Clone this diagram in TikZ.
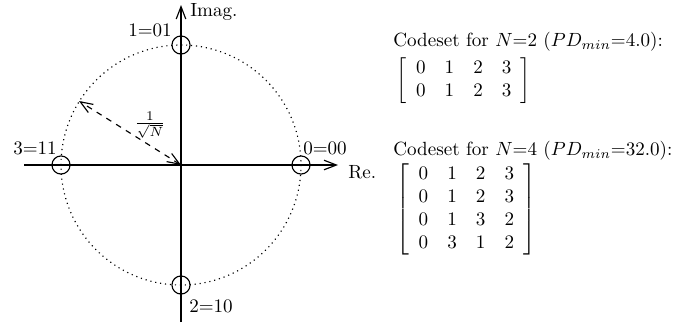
\documentclass[tikz,border=0pt]{standalone}
\usetikzlibrary{arrows.meta}
\begin{document}
\begin{tikzpicture}[x=0.524pt,y=-0.524pt,
  axis/.style={line width=0.6pt,-{Straight Barb[length=6.5pt,width=5pt]}},
  pt/.style={circle,draw,line width=0.6pt,minimum size=9.5pt,inner sep=0pt},
  lbl/.style={inner sep=1pt},
  radius arrow/.style={dashed,line width=0.6pt,{Straight Barb[length=6.5pt,width=5pt]}-{Straight Barb[length=6.5pt,width=5pt]}}]
\useasboundingbox (0,0) rectangle (696,326);
\coordinate (O) at (181,165);
\coordinate (xs) at (24,165);
\coordinate (xe) at (338,165);
\coordinate (ys) at (181,322);
\coordinate (ye) at (181,5);
\draw[dotted,line width=0.6pt] (O) circle[radius=120];
\draw[axis] (xs) -- (xe);
\draw[axis] (ys) -- (ye);
\node[pt] (p0) at (301,165) {};
\node[pt] (p1) at (181,45) {};
\node[pt] (p2) at (181,285) {};
\node[pt] (p3) at (61,165) {};
\draw[radius arrow] (O) -- ++(-102,-64) coordinate (Rt);
\node[lbl] (frac) at (150,125) {$\frac{1}{\sqrt{N}}$};
\node[lbl,anchor=west] (im) at (188,12) {Imag.};
\node[lbl,anchor=west] (re) at (346,172) {Re.};
\node[lbl] (l1) at (150,30) {1=01};
\node[lbl] (l3) at (35,148) {3=11};
\node[lbl] (l0) at (325,148) {0=00};
\node[lbl] (l2) at (211,306) {2=10};
\node[inner sep=0pt,anchor=west] (c1) at (393,42) {Codeset for $N$=2 ($PD_{min}$=4.0):};
\node[inner sep=0pt,anchor=north west] (m1) at (396,57) {$\left[\begin{array}{cccc}0&1&2&3\\0&1&2&3\end{array}\right]$};
\node[inner sep=0pt,anchor=west] (c2) at (393,151) {Codeset for $N$=4 ($PD_{min}$=32.0):};
\node[inner sep=0pt,anchor=north west] (m2) at (396,163) {$\left[\begin{array}{cccc}0&1&2&3\\0&1&2&3\\0&1&3&2\\0&3&1&2\end{array}\right]$};
\end{tikzpicture}
\end{document}
